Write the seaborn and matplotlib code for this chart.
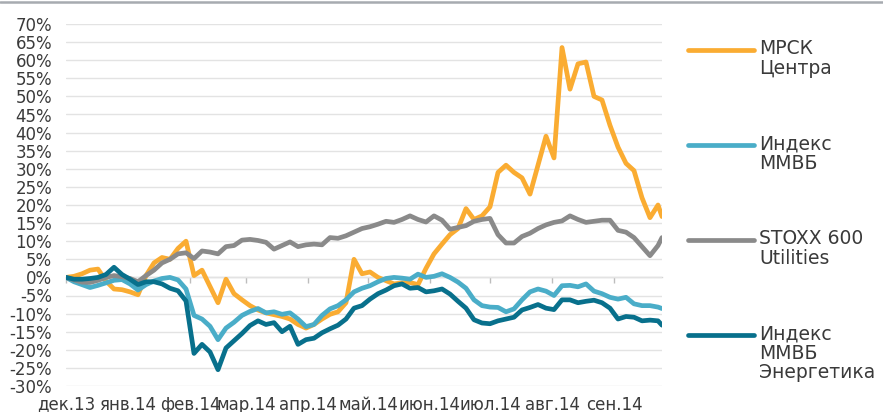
import matplotlib
matplotlib.use("Agg")
import matplotlib.pyplot as plt
import matplotlib.ticker as mticker
import matplotlib.dates as mdates
from matplotlib.lines import Line2D
import pandas as pd
import seaborn as sns

# ---------------- data ----------------
dates = list(pd.date_range("2013-12-01", periods=75, freq="4D")) + [pd.Timestamp("2014-09-25")]

series_names = ["МРСК Центра", "Индекс ММВБ", "STOXX 600 Utilities", "Индекс ММВБ Энергетика"]
legend_labels = ["МРСК\nЦентра", "Индекс\nММВБ", "STOXX 600\nUtilities", "Индекс\nММВБ\nЭнергетика"]
colors = ["#FAAC32", "#4AADC8", "#8A8A8A", "#08708C"]

mrsk = [0, 0.3, 1, 2, 2.3, -1, -3.2, -3.4, -4, -4.8,
        0.5, 4, 5.5, 5, 8, 10, 0.5, 2, -2.5, -7,
        -0.5, -4.5, -6.2, -7.8, -9, -9.8, -10.3, -10.8, -11.5, -13,
        -14, -13, -11.5, -10.2, -9.5, -7, 5, 1, 1.5, 0,
        -0.9, -1.8, -1.5, -1.4, -2, 2.5, 6.5, 9.2, 11.8, 13.5,
        19, 16, 17, 19.5, 29, 31, 29, 27.5, 23, 31,
        39, 33, 63.5, 52, 59, 59.5, 50, 49, 42, 36,
        31.5, 29.5, 22, 16.5, 20, 16.8]

micex = [0, -1.2, -2, -2.8, -2.2, -1.5, -0.8, -0.6, -1.8, -3.5,
         -2, -1, -0.3, 0, -0.7, -3.2, -10.5, -11.5, -13.5, -17.2,
         -14, -12.4, -10.5, -9.4, -8.6, -9.8, -9.5, -10.2, -9.8, -11.5,
         -13.6, -13, -10.5, -8.7, -7.8, -6.2, -4, -3, -2.3, -1.2,
         -0.3, 0, -0.2, -0.5, 0.9, 0, 0.3, 1, 0, -1.3,
         -3, -6.2, -7.8, -8.2, -8.3, -9.5, -8.7, -6.2, -4, -3.2,
         -3.8, -5, -2.3, -2.2, -2.6, -1.8, -3.8, -4.5, -5.5, -6,
         -5.5, -7.3, -7.8, -7.8, -8.2, -8.6]

stoxx = [0, -0.7, -1.3, -1.4, -0.8, 0, 0.5, 0.2, -0.3, -1.2,
         0.5, 2, 4, 5, 6.5, 6.8, 5.2, 7.3, 7, 6.5,
         8.5, 8.8, 10.3, 10.5, 10.2, 9.7, 7.8, 8.8, 9.8, 8.5,
         9, 9.2, 9, 11, 10.8, 11.5, 12.5, 13.5, 14, 14.7,
         15.5, 15.2, 16, 17, 16, 15.3, 17, 15.8, 13.3, 13.8,
         14.3, 15.5, 16, 16.3, 11.8, 9.5, 9.5, 11.3, 12.2, 13.5,
         14.5, 15.2, 15.6, 17, 16, 15.2, 15.5, 15.8, 15.8, 13,
         12.5, 11, 8.5, 6, 8.8, 11]

micex_power = [0, -0.5, -0.5, -0.3, 0, 0.8, 2.8, 0.8, -0.5, -2,
               -1.2, -1.2, -1.8, -3, -3.7, -6.5, -21, -18.5, -20.6, -25.5,
               -19.5, -17.5, -15.5, -13.3, -12, -13, -12.5, -15, -13.5, -18.5,
               -17.2, -16.8, -15.3, -14.2, -13.2, -11.5, -8.5, -7.8, -6, -4.5,
               -3.5, -2.3, -1.8, -3, -2.8, -4, -3.7, -3.2, -4.6, -6.6,
               -8.5, -11.7, -12.6, -12.8, -12, -11.5, -11, -9, -8.3, -7.5,
               -8.5, -8.9, -6.2, -6.2, -7, -6.6, -6.3, -7, -8.5, -11.5,
               -10.8, -11, -12, -11.8, -12, -13.2]

month_ticks = ["2013-12-01", "2014-01-01", "2014-02-01", "2014-03-01", "2014-04-01",
               "2014-05-01", "2014-06-01", "2014-07-01", "2014-08-01", "2014-09-01"]
month_labels = ["дек.13", "янв.14", "фев.14", "мар.14", "апр.14",
                "май.14", "июн.14", "июл.14", "авг.14", "сен.14"]

y_ticks = list(range(-30, 71, 5))

# ---------------- figure ----------------
sns.set_style("white")
plt.rcParams["font.family"] = ["DejaVu Sans"]
plt.rcParams["lines.solid_joinstyle"] = "round"
plt.rcParams["lines.solid_capstyle"] = "round"

text_color = "#3a3a3a"

wide = pd.DataFrame({"date": dates,
                     series_names[0]: mrsk,
                     series_names[1]: micex,
                     series_names[2]: stoxx,
                     series_names[3]: micex_power})
long = wide.melt(id_vars="date", var_name="series", value_name="value")

fig = plt.figure(figsize=(8.83, 4.12), dpi=100)
ax = fig.add_axes([66 / 883, 1 - 386 / 412, (662 - 66) / 883, 362 / 412])

sns.lineplot(data=long, x="date", y="value", hue="series", hue_order=series_names,
             palette=dict(zip(series_names, colors)), linewidth=3.4,
             estimator=None, sort=False, legend=False, ax=ax)

ax.set_ylim(-30, 70)
ax.set_xlim(dates[0], dates[-1])
ax.set_yticks(y_ticks)
ax.yaxis.set_major_formatter(mticker.FuncFormatter(lambda v, p: f"{v:.0f}%"))
tick_nums = [mdates.date2num(pd.Timestamp(d)) for d in month_ticks]
ax.set_xticks(tick_nums)
ax.set_xticklabels(month_labels)
ax.set_xlabel("")
ax.set_ylabel("")
ax.grid(axis="y", color="#e3e3e3", linewidth=1)
ax.grid(axis="x", visible=False)
ax.set_axisbelow(True)
for s in ax.spines.values():
    s.set_visible(False)
ax.tick_params(axis="y", length=0, pad=10, labelsize=12, labelcolor=text_color)
ax.tick_params(axis="x", length=0, pad=7, labelsize=12, labelcolor=text_color)

# horizontal axis line at 0% with tick marks
sec = ax.secondary_xaxis(0.3)
sec.set_xticks(tick_nums)
sec.xaxis.set_major_formatter(mticker.NullFormatter())
sec.tick_params(axis="x", length=4, width=1, color="#bdbdbd", direction="out")
for name, s in sec.spines.items():
    s.set_visible(name == "bottom")
sec.spines["bottom"].set_color("#d4d4d4")
sec.spines["bottom"].set_linewidth(1)

# legend (right side)
legend_y = [50, 145, 240, 335]
for lab, col, yp in zip(legend_labels, colors, legend_y):
    fig.add_artist(Line2D([688 / 883, 754 / 883], [1 - yp / 412] * 2, color=col,
                          linewidth=3.4, solid_capstyle="round"))
    fig.text(759 / 883, 1 - (yp - 11) / 412, lab, ha="left", va="top",
             fontsize=13.5, color=text_color, linespacing=1.05)

# top border line
fig.add_artist(Line2D([0, 1], [1 - 1.5 / 412] * 2, color="#a7abb0", linewidth=1.8))

fig.savefig("out.png", dpi=100)
